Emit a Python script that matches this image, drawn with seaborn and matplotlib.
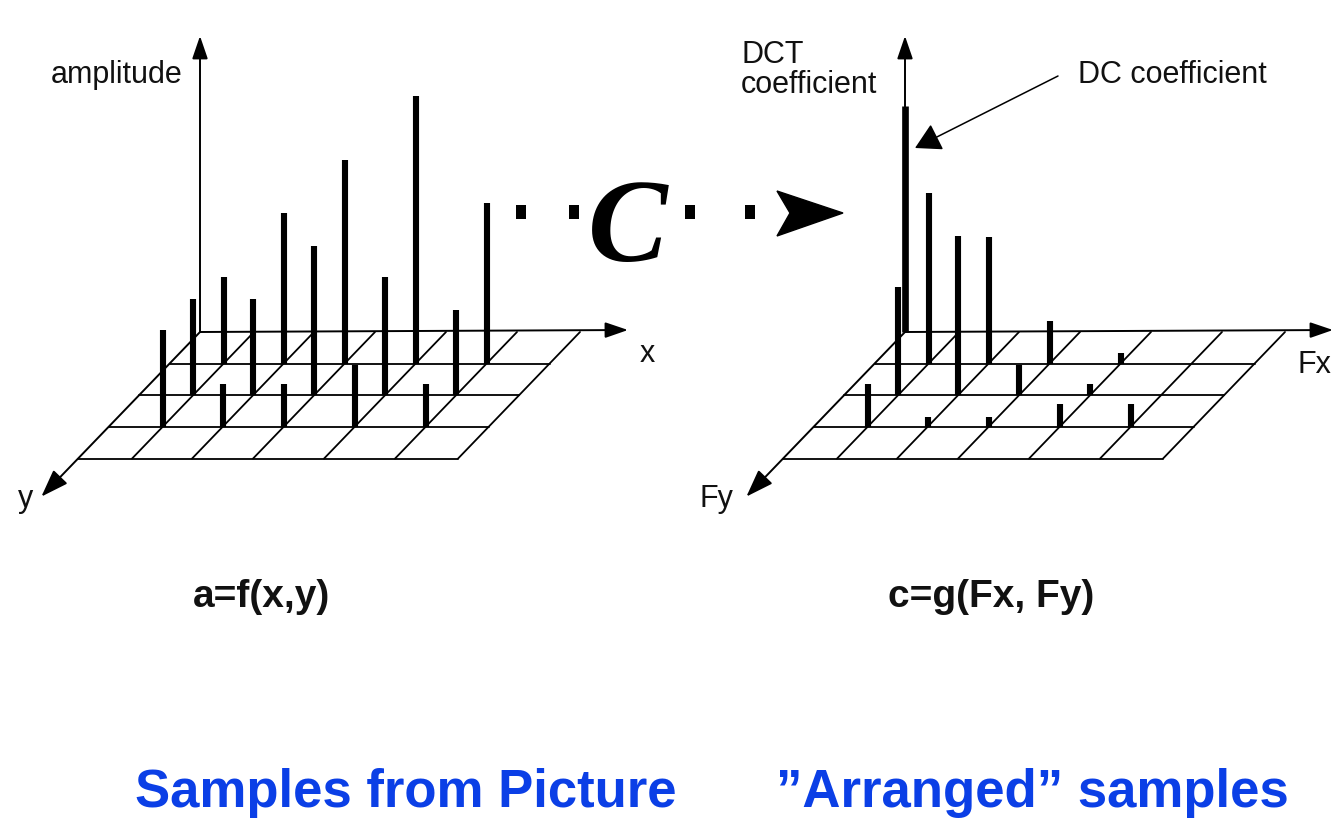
import matplotlib
matplotlib.use("Agg")
import matplotlib.pyplot as plt
from matplotlib.patches import FancyArrowPatch, Polygon
import seaborn as sns

# ---------------------------------------------------------------
# Sample amplitudes a = f(x, y) on the 4x6 floor grid
# (grid rows y = 1..3, grid columns x = 1..5)
sample_rows = [1, 2, 3]
sample_cols = [1, 2, 3, 4, 5]
amplitude_y1 = [87, 151, 204, 268, 161]
amplitude_y2 = [96, 96, 149, 118, 85]
amplitude_y3 = [97, 43, 43, 62, 43]

# DCT coefficients c = g(Fx, Fy): DC term at the origin, AC terms
# on grid rows Fy = 1..3, columns Fx = 1..5
dc_coefficient = 226
coef_fy1 = [171, 127, 43, 11, 0]
coef_fy2 = [108, 159, 30, 11, 0]
coef_fy3 = [43, 10, 10, 23, 23]

left_axis_labels = ["amplitude", "x", "y"]
right_axis_labels = ["DCT\ncoefficient", "Fx", "Fy"]
formulas = ["a=f(x,y)", "c=g(Fx, Fy)"]
captions = ["Samples from Picture", "\u201dArranged\u201d samples"]
transform_symbol = "C"
dc_callout = "DC coefficient"
# ---------------------------------------------------------------

W, H, DPI = 1333, 836, 100
BLUE = "#0b3fe6"
INK = "black"

# oblique floor geometry (figure pixels)
COL_OFFSETS = [0, 54, 114, 175, 246, 317, 380]
ROW_STEP = (-30.5, 31.65)
N_ROWS = 4
LEFT_ORIGIN = (200, 332)
RIGHT_ORIGIN = (905, 332)

sns.set_theme(style="white")
plt.rcParams["font.family"] = ["Liberation Sans", "DejaVu Sans"]

fig = plt.figure(figsize=(W / DPI, H / DPI), dpi=DPI, facecolor="white")
ax = fig.add_axes([0, 0, 1, 1])
ax.set_xlim(0, W)
ax.set_ylim(H, 0)
ax.axis("off")


def floor_point(origin, col, row):
    x = origin[0] + COL_OFFSETS[col] + ROW_STEP[0] * row
    y = origin[1] + ROW_STEP[1] * row
    return x, y


def arrow(p0, p1, hl=0.7, hw=0.24, lw=1.4):
    ax.add_patch(FancyArrowPatch(
        p0, p1, arrowstyle=f"-|>,head_length={hl},head_width={hw}",
        mutation_scale=20, lw=lw, color=INK, shrinkA=0, shrinkB=0, zorder=4))


def draw_floor(origin):
    ox, oy = origin
    # grid rows (row 0 is part of the horizontal axis)
    for r in range(1, N_ROWS + 1):
        x0, y0 = floor_point(origin, 0, r)
        x1, y1 = floor_point(origin, len(COL_OFFSETS) - 1, r)
        ax.plot([x0, x1], [y0, y1], color=INK, lw=1.3, zorder=1)
    # oblique columns (column 0 is part of the depth axis)
    for c in range(1, len(COL_OFFSETS)):
        x0, y0 = floor_point(origin, c, 0)
        x1, y1 = floor_point(origin, c, N_ROWS)
        ax.plot([x0, x1], [y0, y1], color=INK, lw=1.3, zorder=1)
    # axes: vertical, horizontal, depth
    arrow((ox, oy), (ox, oy - 296))
    arrow((ox, oy), (ox + 428, oy - 2))
    arrow((ox, oy), (ox + ROW_STEP[0] * 5.2, oy + ROW_STEP[1] * 5.2), hl=0.85, hw=0.3)


def draw_bars(origin, rows, values, lw=4.4):
    for r, vals in zip(rows, values):
        for c, v in zip(sample_cols, vals):
            if v <= 0:
                continue
            x, y = floor_point(origin, c, r)
            ax.vlines(x, y, y - v, color=INK, lw=lw, zorder=3)


# ---- spatial samples ----
draw_floor(LEFT_ORIGIN)
draw_bars(LEFT_ORIGIN, sample_rows, [amplitude_y1, amplitude_y2, amplitude_y3])

# ---- DCT coefficients ----
draw_floor(RIGHT_ORIGIN)
draw_bars(RIGHT_ORIGIN, sample_rows, [coef_fy1, coef_fy2, coef_fy3])
dcx, dcy = floor_point(RIGHT_ORIGIN, 0, 0)
ax.vlines(dcx, dcy, dcy - dc_coefficient, color=INK, lw=4.8, zorder=3)

# ---- labels ----
lab = dict(fontsize=22, color="#111111", va="baseline", ha="left")
ax.text(51, 83, left_axis_labels[0], **lab)
ax.text(640, 362, left_axis_labels[1], **lab)
ax.text(18, 507, left_axis_labels[2], **lab)
ax.text(741, 93, right_axis_labels[0], linespacing=1.0, **lab)
ax.text(1297, 373, right_axis_labels[1], **lab)
ax.text(699, 507, right_axis_labels[2], **lab)
ax.text(1078, 83, dc_callout, **lab)
arrow((1058, 76), (915, 148), hl=0.8, hw=0.45, lw=1.1)

form = dict(fontsize=28, weight="bold", color="#111111", va="baseline", ha="center")
ax.text(262, 607, formulas[0], **form)
ax.text(991, 607, formulas[1], **form)

# ---- transform symbol with dotted arrow ----
ax.text(628, 261, transform_symbol, fontsize=86, style="italic", weight="bold",
        family=["Liberation Serif", "DejaVu Serif"], ha="center", va="baseline",
        color=INK, zorder=4)
dots_x = [521, 574, 690, 750]
ax.scatter(dots_x, [212] * len(dots_x), marker=[(-0.7, -1), (0.7, -1), (0.7, 1), (-0.7, 1)],
           s=110, color=INK, linewidths=0, zorder=4)
ax.add_patch(Polygon([(843, 213), (777, 191), (790, 213), (777, 236)],
                     closed=True, color=INK, zorder=4))

# ---- captions ----
cap = dict(fontsize=38, weight="bold", color=BLUE, va="baseline", ha="left")
ax.text(135, 807, captions[0], **cap)
ax.text(776, 807, captions[1], **cap)

fig.savefig("out.png", dpi=DPI, facecolor="white")
